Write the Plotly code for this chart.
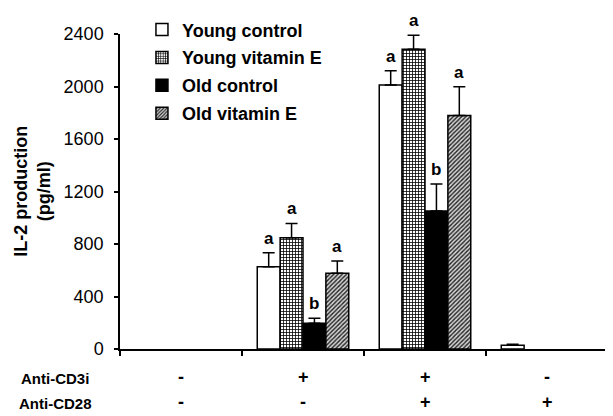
import plotly.graph_objects as go

# ---- data ----
groups = [0.5, 1.5, 2.5, 3.5]  # category centres on the numeric x axis
series_names = ["Young control", "Young vitamin E", "Old control", "Old vitamin E"]
young_control = [None, 627, 2011, 28]
young_control_err = [None, 107, 109, 8]
young_vite = [None, 848, 2283, None]
young_vite_err = [None, 109, 107, None]
old_control = [None, 196, 1051, None]
old_control_err = [None, 38, 206, None]
old_vite = [None, 577, 1780, None]
old_vite_err = [None, 93, 218, None]
letters = {
    "Young control": [None, "a", "a", None],
    "Young vitamin E": [None, "a", "a", None],
    "Old control": [None, "b", "b", None],
    "Old vitamin E": [None, "a", "a", None],
}
cd3_labels = ["-", "+", "+", "-"]
cd28_labels = ["-", "-", "+", "+"]
y_ticks = [0, 400, 800, 1200, 1600, 2000, 2400]

FONT = "Liberation Sans, Arial, sans-serif"
BARGAP = 0.25

values = [young_control, young_vite, old_control, old_vite]
errors = [young_control_err, young_vite_err, old_control_err, old_vite_err]
styles = [
    dict(color="white"),
    dict(color="white", pattern=dict(shape="+", size=3, solidity=0.45, fgopacity=1,
                                     fgcolor="#000000", bgcolor="white", fillmode="replace")),
    dict(color="black"),
    dict(color="#bdbdbd", pattern=dict(shape="/", size=3, solidity=0.45, fgopacity=1,
                                       fgcolor="#222222", bgcolor="#d4d4d4", fillmode="replace")),
]

fig = go.Figure()
for i, (name, v, e, st) in enumerate(zip(series_names, values, errors, styles)):
    marker = dict(color=st["color"], line=dict(color="black", width=1.5))
    if "pattern" in st:
        marker["pattern"] = st["pattern"]
    fig.add_trace(go.Bar(
        x=groups, y=v, name=name, marker=marker, legendgroup=name,
        error_y=dict(type="data", array=e, arrayminus=[0 if a is not None else None for a in e],
                     symmetric=False, color="black", thickness=1.5, width=6),
    ))

# significance letters above the error bars
n = len(series_names)
bw = (1 - BARGAP) / n
for i, name in enumerate(series_names):
    off = -(1 - BARGAP) / 2 + bw * (i + 0.5)
    for g, v, e, lt in zip(groups, values[i], errors[i], letters[name]):
        if lt is None:
            continue
        fig.add_annotation(x=g + off, y=v + e, xref="x", yref="y", text=lt,
                           showarrow=False, yanchor="bottom", yshift=4, borderpad=0,
                           font=dict(family=FONT, size=17, color="black", weight="bold"))

# row labels under the axis
ROW1, ROW2 = -0.128, -0.205
for g, a, b in zip(groups, cd3_labels, cd28_labels):
    fig.add_annotation(x=g, y=ROW1, xref="x", yref="paper", text=a, showarrow=False,
                       font=dict(family=FONT, size=18, color="black", weight="bold"))
    fig.add_annotation(x=g, y=ROW2, xref="x", yref="paper", text=b, showarrow=False,
                       font=dict(family=FONT, size=18, color="black", weight="bold"))
fig.add_annotation(x=-0.133, y=ROW1, xref="paper", yref="paper", text="Anti-CD3i",
                   xanchor="center", showarrow=False,
                   font=dict(family=FONT, size=15, color="black", weight="bold"))
fig.add_annotation(x=-0.133, y=ROW2, xref="paper", yref="paper", text="Anti-CD28",
                   xanchor="center", showarrow=False,
                   font=dict(family=FONT, size=15, color="black", weight="bold"))

# y-axis title
fig.add_annotation(x=-0.18, y=0.5, xref="paper", yref="paper", text="IL-2 production<br>(pg/ml)",
                   xanchor="center", yanchor="middle",
                   showarrow=False, textangle=-90,
                   font=dict(family=FONT, size=18, color="black", weight="bold"))

# the page body has an 8px default margin, so the figure is sized to compensate
fig.update_layout(
    width=605, height=408,
    margin=dict(l=112, r=5, t=26, b=67, autoexpand=False),
    paper_bgcolor="white", plot_bgcolor="white",
    barmode="group", bargap=BARGAP, bargroupgap=0,
    font=dict(family=FONT, color="black"),
    showlegend=True,
    legend=dict(x=0.045, y=1.072, xanchor="left", yanchor="top",
                font=dict(family=FONT, size=18, color="black", weight="bold"),
                bgcolor="rgba(0,0,0,0)", tracegroupgap=1.5),
    xaxis=dict(range=[0, 4], tickvals=[0, 1, 2, 3, 4], showticklabels=False,
               ticks="outside", ticklen=5, tickwidth=1.5, tickcolor="black",
               showline=True, linecolor="black", linewidth=1.5, showgrid=False,
               zeroline=False),
    yaxis=dict(range=[0, 2400], tickvals=y_ticks, ticks="outside", ticklen=4, tickwidth=1.5,
               tickcolor="black", showline=True, linecolor="black", linewidth=1.5,
               showgrid=False, zeroline=False, ticklabelstandoff=7,
               tickfont=dict(family=FONT, size=18, color="black")),
)
for tr in fig.data:
    tr.cliponaxis = False

fig.write_html("out.html")
